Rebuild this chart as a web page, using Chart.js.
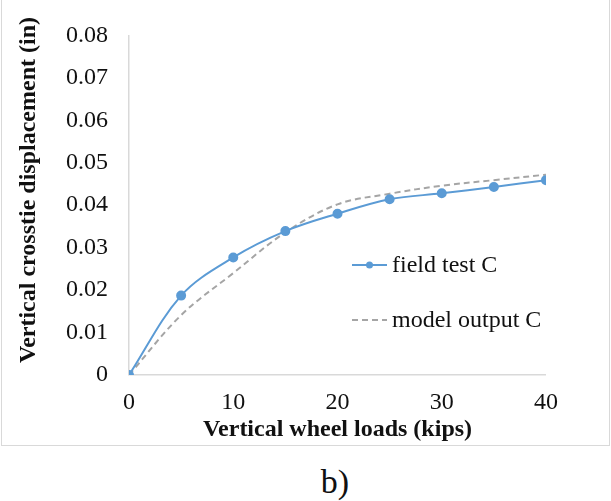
<!DOCTYPE html>
<html>
<head>
<meta charset="utf-8">
<script src="https://cdn.jsdelivr.net/npm/chart.js@4"></script>
<style>
  body { margin: 0; background: #fff; }
  #wrap { position: relative; width: 611px; height: 501px; overflow: hidden; }
  #frame { position: absolute; left: 1px; top: -1px; width: 607px; height: 445px; border: 1px solid #d9d9d9; }
  #chart { position: absolute; left: 0; top: 0; }
  #caption { position: absolute; left: 0; width: 670px; top: 463px; text-align: center;
    font: 34px "Liberation Serif", "Times New Roman", serif; color: #111; }
</style>
</head>
<body>
<div id="wrap">
  <div id="frame"></div>
  <canvas id="chart" width="611" height="450"></canvas>
  <div id="caption">b)</div>
</div>
<script>
const loads = [0, 5, 10, 15, 20, 25, 30, 35, 40];
const fieldTest = [0, 0.0187, 0.0277, 0.0339, 0.0380, 0.0414, 0.0428, 0.0443, 0.0459];
const modelOutput = [0, 0.0141, 0.0240, 0.0336, 0.0402, 0.0427, 0.0446, 0.0459, 0.0472];
const seriesNames = ['field test C', 'model output C'];
const yTitle = 'Vertical crosstie displacement (in)';
const xTitle = 'Vertical wheel loads (kips)';

const serif = '"Liberation Serif", "Times New Roman", serif';
const blue = '#5b9bd5';
const gray = '#a5a5a5';
const ink = '#111';

const toPoints = (ys) => loads.map((x, i) => ({ x: x, y: ys[i] }));

// legend inside the plot, plus the rotated y title sitting a bit above centre
const extras = {
  id: 'extras',
  afterDraw(chart) {
    const ctx = chart.ctx;
    const rows = [265, 320];
    const x0 = 352, x1 = 387;
    ctx.save();
    chart.data.datasets.forEach((ds, i) => {
      const y = rows[i];
      ctx.strokeStyle = ds.borderColor;
      ctx.lineWidth = 2;
      ctx.setLineDash(ds.borderDash || []);
      ctx.beginPath();
      ctx.moveTo(x0, y);
      ctx.lineTo(x1, y);
      ctx.stroke();
      ctx.setLineDash([]);
      if (ds.pointRadius > 0) {
        ctx.fillStyle = ds.pointBackgroundColor;
        ctx.beginPath();
        ctx.arc((x0 + x1) / 2, y, 3.5, 0, Math.PI * 2);
        ctx.fill();
      }
      ctx.fillStyle = ink;
      ctx.font = '24px ' + serif;
      ctx.textBaseline = 'middle';
      ctx.fillText(ds.label, 392, y + 1);
    });

    ctx.translate(29, 190);
    ctx.rotate(-Math.PI / 2);
    ctx.font = 'bold 24px ' + serif;
    ctx.textAlign = 'center';
    ctx.textBaseline = 'middle';
    ctx.fillStyle = ink;
    ctx.fillText(yTitle, 0, 0);
    ctx.restore();
  }
};

const ctx = document.getElementById('chart').getContext('2d');
const chart = new Chart(ctx, {
  type: 'line',
  data: {
    datasets: [{
      label: seriesNames[0],
      data: toPoints(fieldTest),
      borderColor: blue,
      backgroundColor: blue,
      pointBackgroundColor: blue,
      pointBorderColor: blue,
      borderWidth: 2,
      pointRadius: 4,
      tension: 0.35
    }, {
      label: seriesNames[1],
      data: toPoints(modelOutput),
      borderColor: gray,
      backgroundColor: gray,
      borderWidth: 2,
      borderDash: [6, 4],
      pointRadius: 0,
      tension: 0.35
    }]
  },
  options: {
    responsive: false,
    animation: false,
    layout: { padding: { top: 25, right: 65, left: 0, bottom: 0 } },
    plugins: {
      legend: { display: false },
      tooltip: { enabled: false }
    },
    scales: {
      x: {
        type: 'linear',
        min: 0,
        max: 40,
        afterFit: (s) => { s.height = 75; },
        grid: { display: false, drawTicks: false },
        border: { display: false },
        ticks: { stepSize: 10, padding: 13, color: ink, font: { family: serif, size: 24 } },
        title: {
          display: true,
          text: xTitle,
          color: ink,
          font: { family: serif, size: 24, weight: 'bold' },
          padding: { top: 0, bottom: 6 }
        }
      },
      y: {
        min: 0,
        max: 0.08,
        afterFit: (s) => { s.width = 129; },
        grid: {
          drawTicks: false,
          color: (c) => c.tick.value === 0 ? '#d9d9d9' : 'rgba(0,0,0,0)',
          lineWidth: 1.5
        },
        border: { display: true, color: '#d9d9d9', width: 1.5 },
        ticks: {
          stepSize: 0.01,
          padding: 21,
          color: ink,
          font: { family: serif, size: 24 },
          callback: (v) => v === 0 ? '0' : v.toFixed(2)
        }
      }
    }
  },
  plugins: [extras]
});
</script>
</body>
</html>
